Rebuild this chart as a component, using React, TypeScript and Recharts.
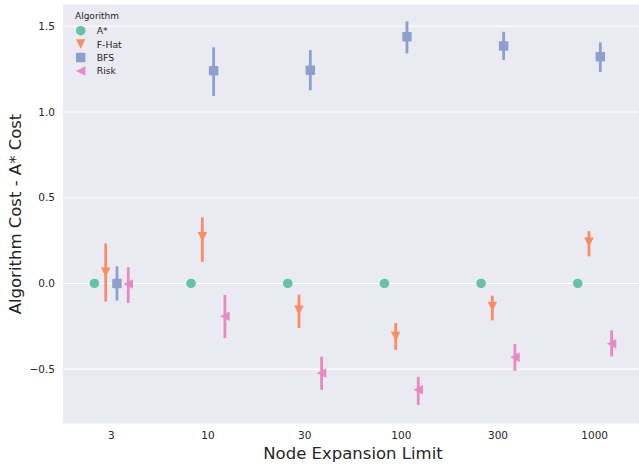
import React from "react"
import {
  ScatterChart,
  Scatter,
  XAxis,
  YAxis,
  CartesianGrid,
  ErrorBar,
  Legend
} from "recharts"

const LIMITS = ["3", "10", "30", "100", "300", "1000"]
const ALGORITHMS = ["A*", "F-Hat", "BFS", "Risk"]
const Y_TICKS = [-0.5, 0, 0.5, 1.0, 1.5]

// mean and confidence interval per node limit
const ASTAR_MEAN = [0, 0, 0, 0, 0, 0]
const ASTAR_LOW = [0, 0, 0, 0, 0, 0]
const ASTAR_HIGH = [0, 0, 0, 0, 0, 0]

const FHAT_MEAN = [0.065, 0.272, -0.157, -0.309, -0.134, 0.24]
const FHAT_LOW = [-0.106, 0.126, -0.26, -0.387, -0.216, 0.158]
const FHAT_HIGH = [0.233, 0.385, -0.065, -0.231, -0.071, 0.305]

const BFS_MEAN = [0, 1.24, 1.243, 1.439, 1.385, 1.322]
const BFS_LOW = [-0.1, 1.094, 1.127, 1.342, 1.303, 1.234]
const BFS_HIGH = [0.1, 1.377, 1.361, 1.529, 1.468, 1.406]

const RISK_MEAN = [-0.003, -0.192, -0.522, -0.62, -0.43, -0.352]
const RISK_LOW = [-0.114, -0.319, -0.621, -0.709, -0.51, -0.426]
const RISK_HIGH = [0.094, -0.067, -0.427, -0.545, -0.354, -0.274]

const COLORS = ["#66c2a5", "#fc8d62", "#8da0cb", "#e78ac3"]
const KINDS = ["circle", "down", "square", "left"]
const DODGE = 0.35
const FONT = "'DejaVu Sans', sans-serif"
const TEXT = "#262626"

function buildSeries(mean: number[], low: number[], high: number[], hue: number) {
  const offset = -DODGE / 2 + (DODGE / (ALGORITHMS.length - 1)) * hue
  return mean.map((m, i) => ({
    x: i + offset,
    y: m,
    err: [m - low[i], high[i] - m]
  }))
}

const SERIES = [
  buildSeries(ASTAR_MEAN, ASTAR_LOW, ASTAR_HIGH, 0),
  buildSeries(FHAT_MEAN, FHAT_LOW, FHAT_HIGH, 1),
  buildSeries(BFS_MEAN, BFS_LOW, BFS_HIGH, 2),
  buildSeries(RISK_MEAN, RISK_LOW, RISK_HIGH, 3)
]

function Marker({ kind, cx, cy, color }: { kind: string; cx: number; cy: number; color: string }) {
  const h = 4.75
  if (kind === "circle") return <circle cx={cx} cy={cy} r={4.8} fill={color} />
  if (kind === "square")
    return <rect x={cx - h} y={cy - h} width={h * 2} height={h * 2} rx={1} fill={color} />
  if (kind === "down")
    return <polygon points={`${cx - h},${cy - h} ${cx + h},${cy - h} ${cx},${cy + h}`} fill={color} />
  return <polygon points={`${cx + h},${cy - h} ${cx + h},${cy + h} ${cx - h},${cy}`} fill={color} />
}

function LegendBox() {
  return (
    <svg width={90} height={80} style={{ fontFamily: FONT }}>
      <text x={9} y={10} fontSize={9} fill={TEXT} dominantBaseline="central">Algorithm</text>
      {ALGORITHMS.map((name, i) => (
        <g key={name}>
          <Marker kind={KINDS[i]} cx={14.7} cy={24.7 + i * 13.4} color={COLORS[i]} />
          <text x={30.7} y={24.7 + i * 13.4} fontSize={9.3} fill={TEXT} dominantBaseline="central">
            {name}
          </text>
        </g>
      ))}
    </svg>
  )
}

const fmtY = (v: number) => (v < 0 ? "\u2212" + Math.abs(v).toFixed(1) : v.toFixed(1))

export default function App() {
  return (
    <div style={{ position: "absolute", left: 0, top: 0, width: 639, height: 466, overflow: "hidden", background: "#fff" }}>
      <ScatterChart width={645} height={466} margin={{ top: 4, right: 2, bottom: 0, left: 0 }}>
        <CartesianGrid vertical={false} stroke="#ffffff" strokeWidth={1.1} fill="#EAEAF2" fillOpacity={1} />
        <XAxis
          type="number"
          dataKey="x"
          domain={[-0.5, 5.5]}
          ticks={[0, 1, 2, 3, 4, 5]}
          interval={0}
          allowDataOverflow
          tickFormatter={(v: number) => LIMITS[v]}
          axisLine={false}
          tickLine={false}
          tickSize={0}
          tickMargin={8}
          height={42}
          tick={{ fontSize: 10.5, fill: TEXT, fontFamily: FONT }}
          label={{ value: "Node Expansion Limit", position: "insideBottom", offset: 7, fontSize: 16.5, fill: TEXT, fontFamily: FONT }}
        />
        <YAxis
          type="number"
          dataKey="y"
          domain={[-0.82, 1.63]}
          ticks={Y_TICKS}
          interval={0}
          allowDataOverflow
          tickFormatter={fmtY}
          axisLine={false}
          tickLine={false}
          tickSize={0}
          tickMargin={8}
          width={63}
          tick={{ fontSize: 10.5, fill: TEXT, fontFamily: FONT }}
          label={{
            value: "Algorithm Cost - A* Cost",
            angle: -90,
            position: "insideLeft",
            offset: 15,
            fontSize: 16.5,
            fill: TEXT,
            fontFamily: FONT,
            style: { textAnchor: "middle" }
          }}
        />
        {SERIES.map((data, i) => (
          <Scatter
            key={ALGORITHMS[i]}
            name={ALGORITHMS[i]}
            data={data}
            fill={COLORS[i]}
            isAnimationActive={false}
            shape={(p: any) => <Marker kind={KINDS[i]} cx={p.cx} cy={p.cy} color={COLORS[i]} />}
          >
            <ErrorBar dataKey="err" direction="y" width={0} stroke={COLORS[i]} strokeWidth={2.8} isAnimationActive={false} />
          </Scatter>
        ))}
        <Legend
          layout="vertical"
          align="center"
          verticalAlign="middle"
          wrapperStyle={{ left: 66, top: 6, width: 90, height: 80 }}
          content={() => <LegendBox />}
        />
      </ScatterChart>
    </div>
  )
}
